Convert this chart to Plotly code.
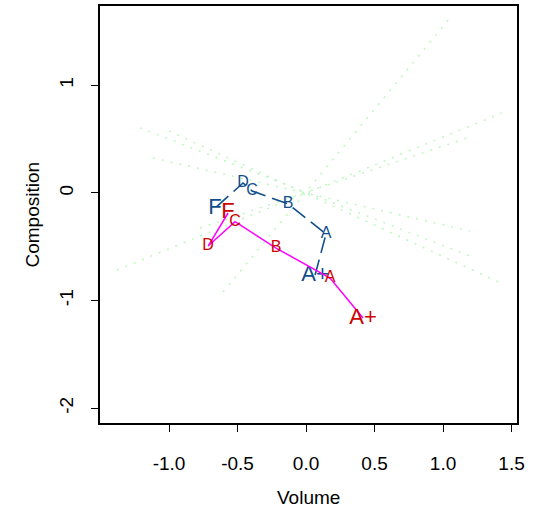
import plotly.graph_objects as go

grades = ["A+", "A", "B", "C", "D", "F"]

# Blue (first) trajectory
blue_x = [0.066, 0.146, -0.131, -0.394, -0.460, -0.664]
blue_y = [-0.763, -0.381, -0.102, 0.019, 0.093, -0.140]

# Red (second) trajectory
red_x = [0.416, 0.175, -0.219, -0.518, -0.715, -0.569]
red_y = [-1.163, -0.791, -0.512, -0.267, -0.493, -0.186]

label_sizes = [22, 16, 16, 16, 16, 22]

# faint green dotted guide lines (start / end)
green_x0 = [-1.212, -1.000, -1.117, -0.606, -1.380, -0.774]
green_y0 = [0.605, 0.577, 0.326, -0.921, -0.716, -0.326]
green_x1 = [1.197, 1.423, 1.197, 1.058, 1.431, 1.197]
green_y1 = [-0.586, -0.837, -0.353, 1.637, 0.744, 0.521]

x_ticks = [-1.0, -0.5, 0.0, 0.5, 1.0, 1.5]
x_ticktext = ["-1.0", "-0.5", "0.0", "0.5", "1.0", "1.5"]
y_ticks = [-2, -1, 0, 1]
y_ticktext = ["-2", "-1", "0", "1"]

FONT = "Liberation Sans, Arial, Helvetica, sans-serif"
BLUE = "#104E8B"
RED = "#CD0000"
GREEN = "rgb(190,248,190)"

fig = go.Figure()

for x0, y0, x1, y1 in zip(green_x0, green_y0, green_x1, green_y1):
    fig.add_trace(go.Scatter(
        x=[x0, x1], y=[y0, y1], mode="lines",
        line=dict(color=GREEN, width=1.5, dash="2px,7px"),
        hoverinfo="skip", showlegend=False))

fig.add_trace(go.Scatter(
    x=blue_x, y=blue_y, mode="lines+text", text=grades,
    textposition="middle center",
    textfont=dict(color=BLUE, size=label_sizes, family=FONT),
    line=dict(color=BLUE, width=1.6, dash="16px,7px"),
    showlegend=False))

fig.add_trace(go.Scatter(
    x=red_x, y=red_y, mode="lines+text", text=grades,
    textposition="middle center",
    textfont=dict(color=RED, size=label_sizes, family=FONT),
    line=dict(color="#FF00FF", width=1.5),
    showlegend=False))

axis_common = dict(
    ticks="outside", ticklen=7, tickwidth=1, tickcolor="black",
    showline=True, linecolor="black", linewidth=1.5, mirror=True,
    showgrid=False, zeroline=False, automargin=False,
    tickfont=dict(size=19, color="black", family=FONT),
)

fig.update_xaxes(range=[-1.504, 1.540], tickvals=x_ticks, ticktext=x_ticktext,
                 ticklabelstandoff=15, **axis_common)
fig.update_yaxes(range=[-2.138, 1.738], tickvals=y_ticks, ticktext=y_ticktext,
                 tickangle=-90, ticklabelstandoff=11, **axis_common)

fig.update_layout(
    width=548, height=515,
    margin=dict(l=100, r=31, t=6, b=92),
    plot_bgcolor="white", paper_bgcolor="white",
    font=dict(family=FONT, color="black"),
    annotations=[
        dict(text="Volume", xref="paper", yref="paper", x=0.5, y=0,
             xanchor="center", yanchor="middle", yshift=-74, showarrow=False,
             font=dict(size=19, color="black", family=FONT)),
        dict(text="Composition", xref="paper", yref="paper", x=0, y=0.5,
             xanchor="center", yanchor="middle", xshift=-68, textangle=-90,
             showarrow=False, font=dict(size=19, color="black", family=FONT)),
    ],
)

fig.write_html("out.html",
               config={"displayModeBar": False},
               post_script="document.body.style.margin='0px';"
                           "document.body.style.padding='0px';")
